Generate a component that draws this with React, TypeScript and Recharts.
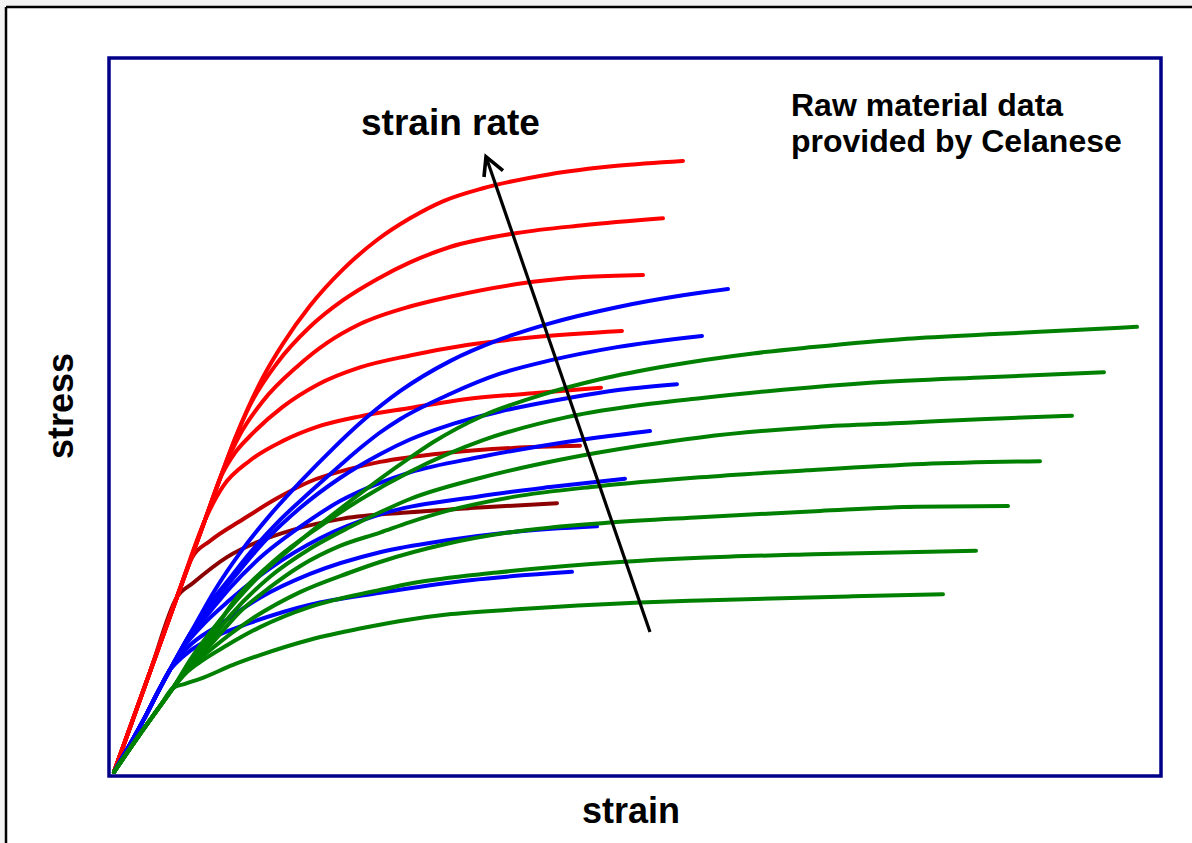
import React from 'react';
import { LineChart, Line, XAxis, YAxis, ReferenceArea } from 'recharts';

type Pt = [number, number];

// strain (arbitrary units) , stress (arbitrary units)
const redStem: Pt[] = [[0, 0], [3.6, 14.3], [6.3, 25.0]];
const red1: Pt[] = [...redStem, [9.1, 36.0], [10.8, 42.7], [12.1, 47.6], [13.4, 52.0], [14.9, 56.4], [16.9, 61.2], [19.6, 66.6], [22.9, 71.8], [26.3, 76.0], [29.6, 79.1], [33.0, 81.6], [36.9, 83.4], [43.6, 85.4], [50.3, 86.6], [56.9, 87.3]];
const red2: Pt[] = [...redStem, [9.1, 36.0], [10.8, 42.7], [12.1, 47.6], [13.6, 52.4], [16.3, 58.4], [19.6, 63.6], [22.9, 67.4], [26.3, 70.4], [29.6, 72.8], [33.6, 75.0], [40.3, 77.0], [46.9, 78.1], [54.9, 79.1]];
const red3: Pt[] = [...redStem, [9.1, 36.0], [10.8, 42.7], [12.6, 48.2], [14.9, 53.0], [18.3, 57.9], [21.3, 61.3], [24.6, 64.0], [29.6, 66.5], [33.6, 67.9], [40.3, 69.7], [46.9, 70.7], [52.9, 71.0]];
const red4: Pt[] = [...redStem, [9.1, 36.0], [10.8, 42.5], [12.1, 45.6], [13.6, 48.0], [16.9, 52.2], [20.3, 55.3], [24.6, 57.8], [29.6, 59.5], [35.3, 61.0], [41.9, 62.1], [50.8, 63.0]];
const red5: Pt[] = [...redStem, [9.1, 36.0], [10.9, 40.8], [13.6, 44.5], [16.9, 47.3], [20.3, 49.3], [24.6, 50.8], [29.6, 52.0], [35.3, 53.3], [41.9, 54.1], [48.7, 54.9]];
const red6: Pt[] = [...redStem, [7.8, 30.6], [9.6, 33.0], [12.9, 36.1], [16.3, 39.1], [19.6, 41.5], [23.6, 43.3], [26.6, 44.3], [33.3, 45.6], [39.9, 46.3], [46.6, 46.6]];
const red7: Pt[] = [...redStem, [7.9, 27.0], [11.3, 30.7], [14.6, 33.0], [17.9, 34.6], [22.9, 36.2], [29.6, 37.1], [35.6, 37.7], [44.3, 38.4]];

const blueStem: Pt[] = [[0, 0], [2.9, 7.3], [4.6, 12.0], [5.6, 14.6]];
const blue1: Pt[] = [...blueStem, [7.6, 19.7], [10.1, 26.0], [12.6, 31.3], [15.6, 36.7], [18.6, 41.4], [21.9, 46.2], [24.9, 50.2], [28.6, 54.4], [33.6, 58.7], [38.6, 61.8], [43.6, 64.1], [50.3, 66.4], [56.9, 68.1], [61.4, 69.0]];
const blue2: Pt[] = [...blueStem, [7.6, 19.7], [9.6, 24.1], [11.6, 27.7], [13.6, 31.3], [16.6, 36.0], [19.6, 40.0], [22.6, 43.8], [24.9, 46.6], [26.6, 48.5], [28.6, 50.4], [33.6, 54.0], [38.6, 56.9], [43.6, 58.8], [50.3, 60.7], [58.8, 62.3]];
const blue3: Pt[] = [...blueStem, [7.6, 19.7], [9.6, 23.6], [12.1, 28.0], [15.1, 33.0], [18.6, 37.7], [22.6, 42.0], [26.6, 45.4], [29.6, 47.5], [33.6, 49.6], [38.6, 51.5], [45.3, 53.4], [50.6, 54.6], [56.3, 55.4]];
const blue4: Pt[] = [...blueStem, [7.6, 19.4], [9.6, 22.9], [11.6, 26.3], [14.6, 30.6], [18.6, 35.0], [22.6, 38.7], [26.6, 41.3], [29.6, 42.8], [36.6, 45.0], [44.6, 47.0], [53.6, 48.7]];
const blue5: Pt[] = [...blueStem, [6.6, 17.1], [8.6, 20.6], [11.6, 24.6], [15.6, 29.1], [20.6, 33.4], [26.6, 36.8], [36.6, 39.4], [43.6, 40.7], [51.1, 41.9]];
const blue6: Pt[] = [...blueStem, [7.3, 17.7], [10.6, 21.1], [14.6, 24.9], [19.6, 28.3], [26.6, 31.4], [33.3, 33.1], [39.9, 34.3], [48.3, 35.1]];
const blue7: Pt[] = [...blueStem, [6.1, 15.4], [7.6, 17.3], [9.6, 19.0], [13.6, 21.3], [19.6, 23.9], [26.6, 25.6], [35.6, 27.4], [45.8, 28.6]];

const greenStem: Pt[] = [[0, 0], [2.6, 5.4], [4.6, 9.4], [5.9, 12.0]];
const green1: Pt[] = [...greenStem, [7.6, 16.0], [10.6, 21.7], [13.9, 27.1], [18.3, 32.7], [22.9, 37.9], [29.6, 44.9], [31.9, 47.1], [36.9, 50.9], [42.6, 53.8], [48.6, 56.1], [55.3, 58.0], [63.9, 59.8], [69.9, 60.7], [79.3, 61.9], [88.6, 62.6], [95.6, 63.1], [102.3, 63.6]];
const green2: Pt[] = [...greenStem, [7.6, 15.7], [9.6, 19.4], [12.1, 24.6], [16.1, 30.3], [20.6, 35.1], [24.6, 38.9], [29.6, 42.9], [36.9, 47.4], [45.3, 50.7], [53.6, 52.6], [58.6, 53.4], [66.9, 54.6], [75.6, 55.6], [87.3, 56.4], [99.0, 57.1]];
const green3: Pt[] = [...greenStem, [7.6, 15.4], [9.6, 18.7], [11.6, 22.3], [15.6, 27.9], [19.6, 31.9], [23.6, 35.0], [26.6, 37.1], [29.6, 39.0], [36.6, 42.0], [44.6, 44.6], [52.6, 46.6], [58.6, 47.8], [70.3, 49.3], [79.3, 49.9], [86.6, 50.4], [95.8, 50.9]];
const green4: Pt[] = [...greenStem, [7.6, 15.3], [9.6, 18.1], [12.6, 22.9], [15.6, 26.4], [18.6, 29.4], [22.6, 32.3], [26.6, 34.2], [29.6, 35.7], [33.3, 37.3], [39.9, 39.3], [48.3, 40.8], [58.6, 42.1], [69.3, 43.1], [80.9, 44.0], [92.6, 44.4]];
const green5: Pt[] = [...greenStem, [7.6, 14.9], [9.6, 17.4], [13.6, 21.7], [18.6, 25.7], [23.6, 28.5], [26.6, 30.0], [33.3, 32.6], [39.9, 34.3], [49.3, 35.6], [58.6, 36.4], [70.6, 37.3], [80.3, 37.9], [89.4, 38.0]];
const green6: Pt[] = [...greenStem, [7.1, 14.0], [8.6, 15.7], [11.3, 18.1], [14.6, 20.7], [19.6, 23.6], [26.6, 26.0], [29.9, 27.0], [38.3, 28.5], [50.6, 30.0], [58.6, 30.6], [69.9, 31.1], [86.2, 31.6]];
const green7: Pt[] = [...greenStem, [7.1, 12.6], [8.6, 13.3], [11.9, 15.3], [14.6, 16.7], [19.6, 18.9], [24.6, 20.5], [29.6, 21.8], [33.3, 22.5], [39.9, 23.2], [52.6, 24.2], [58.6, 24.5], [73.9, 25.1], [82.9, 25.4]];

const arrowShaft: Pt[] = [[53.6, 20.0], [37.2, 87.9]];
const arrowHead: Pt[] = [[37.0, 85.0], [37.2, 87.9], [38.9, 85.9]];

const RED = '#ff0000';
const DARK_RED = '#c00000';
const MAROON = '#8b0000';
const BLUE = '#0000ff';
const GREEN = '#008000';

const curves: { id: string; pts: Pt[]; color: string }[] = [
  { id: 'r7', pts: red7, color: MAROON },
  { id: 'r6', pts: red6, color: DARK_RED },
  { id: 'r5', pts: red5, color: RED },
  { id: 'r4', pts: red4, color: RED },
  { id: 'r3', pts: red3, color: RED },
  { id: 'r2', pts: red2, color: RED },
  { id: 'r1', pts: red1, color: RED },
  { id: 'b7', pts: blue7, color: BLUE },
  { id: 'b6', pts: blue6, color: BLUE },
  { id: 'b5', pts: blue5, color: BLUE },
  { id: 'b4', pts: blue4, color: BLUE },
  { id: 'b3', pts: blue3, color: BLUE },
  { id: 'b2', pts: blue2, color: BLUE },
  { id: 'b1', pts: blue1, color: BLUE },
  { id: 'g7', pts: green7, color: GREEN },
  { id: 'g6', pts: green6, color: GREEN },
  { id: 'g5', pts: green5, color: GREEN },
  { id: 'g4', pts: green4, color: GREEN },
  { id: 'g3', pts: green3, color: GREEN },
  { id: 'g2', pts: green2, color: GREEN },
  { id: 'g1', pts: green1, color: GREEN },
];

const toData = (pts: Pt[]) => pts.map(([strain, stress]) => ({ strain, stress }));

const X_DOMAIN: [number, number] = [-0.5, 104.7];
const Y_DOMAIN: [number, number] = [-0.571, 102];

const FONT = '"Liberation Sans", Arial, Helvetica, sans-serif';

export default function App() {
  return (
    <div style={{ position: 'absolute', left: 0, top: 0, width: 1192, height: 843, background: '#ffffff', overflow: 'hidden' }}>
      <svg style={{ position: 'absolute', left: 0, top: 0 }} width={1192} height={843}>
        <rect x={0} y={0} width={1192} height={6} fill="#f3f3f3" />
        <rect x={0} y={0} width={5} height={843} fill="#f3f3f3" />
        <line x1={6} y1={7} x2={1192} y2={7} stroke="#000" strokeWidth={2.5} />
        <line x1={6} y1={7} x2={6} y2={843} stroke="#000" strokeWidth={2.5} />
      </svg>
      <div style={{ position: 'absolute', left: 0, top: 0 }}>
        <LineChart width={1192} height={843} margin={{ top: 58, right: 31, bottom: 67, left: 109 }}>
          <XAxis type="number" dataKey="strain" domain={X_DOMAIN} allowDataOverflow hide />
          <YAxis type="number" dataKey="stress" domain={Y_DOMAIN} allowDataOverflow hide />
          <ReferenceArea
            x1={X_DOMAIN[0]}
            x2={X_DOMAIN[1]}
            y1={Y_DOMAIN[0]}
            y2={Y_DOMAIN[1]}
            fill="none"
            fillOpacity={0}
            stroke="#000088"
            strokeWidth={3.5}
            ifOverflow="visible"
          />
          {curves.map((c) => (
            <Line
              key={c.id}
              name={c.id}
              data={toData(c.pts)}
              dataKey="stress"
              type="monotone"
              stroke={c.color}
              strokeWidth={4}
              strokeLinecap="round"
              dot={false}
              activeDot={false}
              isAnimationActive={false}
            />
          ))}
          <Line data={toData(arrowShaft)} dataKey="stress" type="linear" stroke="#000" strokeWidth={3.2} dot={false} activeDot={false} isAnimationActive={false} />
          <Line data={toData(arrowHead)} dataKey="stress" type="linear" stroke="#000" strokeWidth={3.6} dot={false} activeDot={false} isAnimationActive={false} />
        </LineChart>
      </div>
      <svg style={{ position: 'absolute', left: 0, top: 0, pointerEvents: 'none' }} width={1192} height={843}>
        <g fontFamily={FONT} fontWeight="bold" fill="#000">
          <text x={361} y={135} fontSize={37}>strain rate</text>
          <text x={791} y={116} fontSize={32}>Raw material data</text>
          <text x={791} y={152} fontSize={32}>provided by Celanese</text>
          <text x={631} y={823} fontSize={36} textAnchor="middle">strain</text>
          <text transform="translate(73,406) rotate(-90)" fontSize={36} textAnchor="middle">stress</text>
        </g>
      </svg>
    </div>
  );
}
